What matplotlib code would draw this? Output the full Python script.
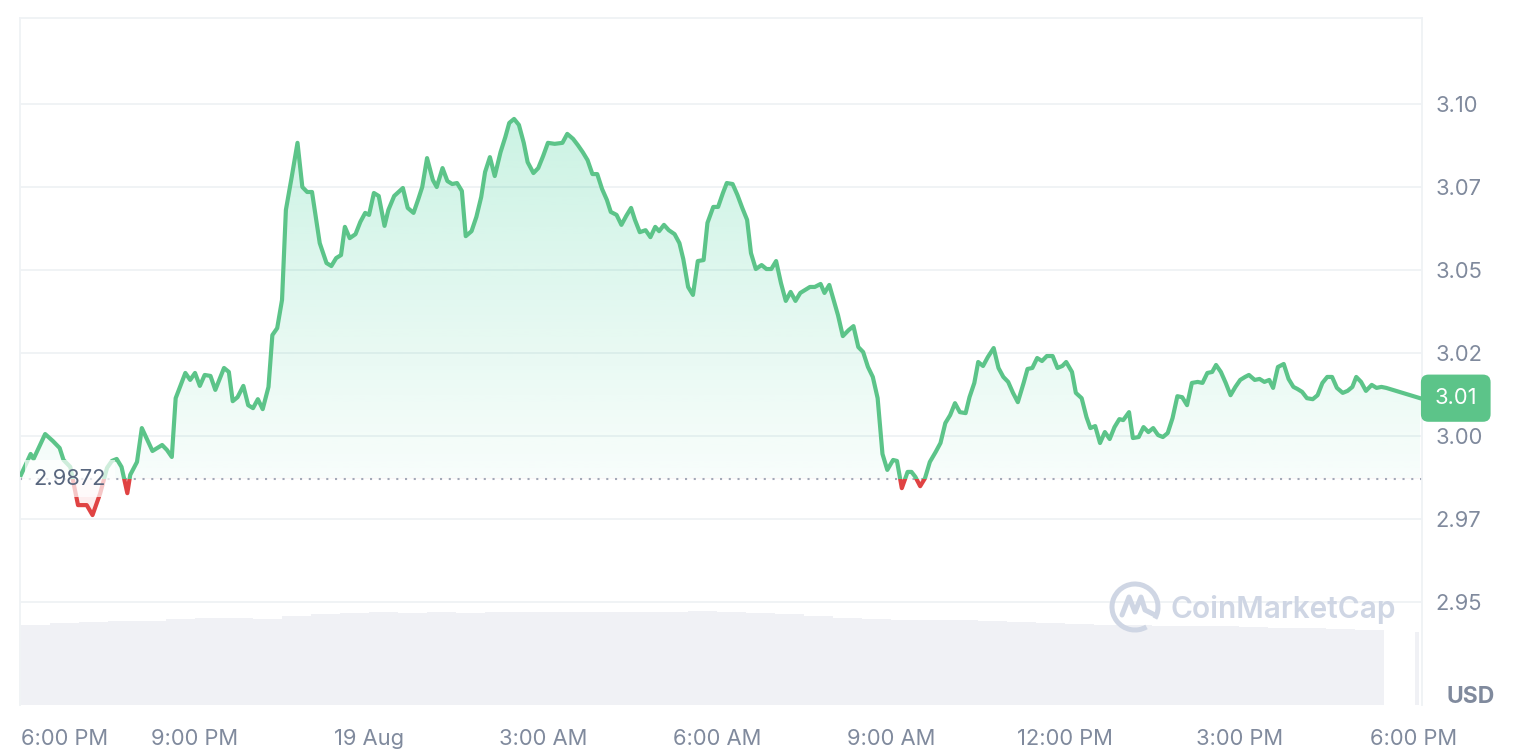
import numpy as np
import matplotlib.pyplot as plt
import matplotlib.colors as mcolors
from matplotlib.path import Path
from matplotlib.patches import Rectangle, Arc

plt.rcParams['font.family'] = ['Inter', 'DejaVu Sans']

# minutes after 6:00 PM (18 Aug)
minutes = [0, 10, 13, 25, 33, 40, 44, 51, 59, 68, 74, 82, 89, 94, 99, 104, 110, 113, 120, 125,
           136, 146, 151, 156, 160, 170, 175, 180, 185, 190, 196, 201, 210, 215, 219, 224, 230, 235, 240, 245,
           250, 256, 260, 265, 270, 274, 280, 286, 291, 296, 301, 309, 316, 321, 326, 331, 335, 340, 346, 351,
           356, 360, 365, 370, 376, 380, 386, 395, 400, 406, 411, 415, 420, 426, 430, 436, 441, 446, 451, 456,
           460, 466, 471, 476, 480, 485, 490, 496, 501, 505, 510, 515, 520, 524, 530, 535, 540, 545, 552, 560,
           565, 571, 576, 581, 586, 591, 596, 601, 606, 610, 616, 621, 626, 631, 635, 640, 646, 651, 656, 660,
           665, 670, 676, 681, 685, 690, 695, 700, 706, 710, 716, 721, 726, 730, 736, 741, 746, 751, 755, 760,
           766, 771, 776, 781, 786, 791, 796, 801, 806, 811, 816, 821, 827, 831, 836, 841, 845, 850, 856, 861,
           866, 871, 876, 881, 886, 891, 896, 902, 906, 911, 917, 921, 925, 930, 935, 940, 946, 951, 956, 961,
           966, 971, 977, 981, 986, 990, 995, 1000, 1006, 1011, 1016, 1021, 1026, 1031, 1037, 1041, 1046, 1051, 1056, 1061,
           1067, 1072, 1077, 1081, 1087, 1091, 1097, 1102, 1106, 1111, 1116, 1121, 1126, 1131, 1136, 1140, 1146, 1150, 1156, 1161,
           1166, 1171, 1176, 1181, 1186, 1191, 1196, 1201, 1206, 1211, 1217, 1222, 1227, 1232, 1236, 1241, 1246, 1251, 1256, 1261,
           1266, 1270, 1276, 1281, 1286, 1291, 1295, 1300, 1306, 1311, 1316, 1320, 1325, 1330, 1336, 1341, 1346, 1351, 1356, 1361,
           1367, 1372, 1377, 1381, 1386, 1391, 1397, 1402, 1407, 1412, 1447]

price = [2.9883, 2.9946, 2.9931, 3.0006, 2.9985, 2.9964, 2.9928, 2.9907, 2.9792, 2.9792,
         2.9762, 2.9828, 2.9904, 2.9925, 2.9931, 2.9907, 2.9828, 2.9883, 2.9922, 3.0024,
         2.9955, 2.9973, 2.9958, 2.9937, 3.0114, 3.0190, 3.0169, 3.0190, 3.0151, 3.0184,
         3.0181, 3.0139, 3.0205, 3.0193, 3.0105, 3.0117, 3.0151, 3.0093, 3.0084, 3.0111,
         3.0081, 3.0148, 3.0304, 3.0325, 3.0410, 3.0681, 3.0780, 3.0883, 3.0750, 3.0735,
         3.0735, 3.0581, 3.0521, 3.0512, 3.0536, 3.0545, 3.0630, 3.0596, 3.0608, 3.0645,
         3.0672, 3.0666, 3.0732, 3.0723, 3.0633, 3.0681, 3.0723, 3.0747, 3.0687, 3.0672,
         3.0714, 3.0750, 3.0837, 3.0771, 3.0750, 3.0807, 3.0768, 3.0759, 3.0762, 3.0738,
         3.0602, 3.0617, 3.0660, 3.0720, 3.0795, 3.0840, 3.0783, 3.0855, 3.0901, 3.0943,
         3.0955, 3.0937, 3.0883, 3.0825, 3.0792, 3.0807, 3.0843, 3.0883, 3.0880, 3.0883,
         3.0910, 3.0895, 3.0876, 3.0855, 3.0831, 3.0789, 3.0789, 3.0744, 3.0711, 3.0675,
         3.0666, 3.0636, 3.0663, 3.0687, 3.0651, 3.0614, 3.0620, 3.0599, 3.0630, 3.0617,
         3.0636, 3.0620, 3.0608, 3.0581, 3.0533, 3.0449, 3.0425, 3.0527, 3.0530, 3.0642,
         3.0690, 3.0690, 3.0732, 3.0762, 3.0759, 3.0726, 3.0687, 3.0651, 3.0551, 3.0503,
         3.0515, 3.0503, 3.0503, 3.0527, 3.0461, 3.0407, 3.0434, 3.0407, 3.0431, 3.0440,
         3.0449, 3.0449, 3.0458, 3.0431, 3.0455, 3.0404, 3.0364, 3.0301, 3.0319, 3.0331,
         3.0268, 3.0253, 3.0208, 3.0178, 3.0114, 2.9946, 2.9898, 2.9928, 2.9925, 2.9843,
         2.9892, 2.9892, 2.9877, 2.9849, 2.9873, 2.9922, 2.9952, 2.9979, 3.0039, 3.0063,
         3.0099, 3.0072, 3.0069, 3.0117, 3.0160, 3.0223, 3.0211, 3.0238, 3.0265, 3.0205,
         3.0178, 3.0163, 3.0130, 3.0102, 3.0160, 3.0202, 3.0205, 3.0235, 3.0226, 3.0241,
         3.0241, 3.0205, 3.0211, 3.0223, 3.0193, 3.0130, 3.0114, 3.0057, 3.0024, 3.0030,
         2.9979, 3.0012, 2.9991, 3.0027, 3.0051, 3.0048, 3.0072, 2.9994, 2.9997, 3.0027,
         3.0012, 3.0024, 3.0003, 2.9997, 3.0009, 3.0054, 3.0120, 3.0117, 3.0093, 3.0160,
         3.0163, 3.0160, 3.0190, 3.0193, 3.0214, 3.0193, 3.0160, 3.0123, 3.0148, 3.0169,
         3.0178, 3.0184, 3.0169, 3.0172, 3.0163, 3.0169, 3.0145, 3.0208, 3.0217, 3.0172,
         3.0148, 3.0142, 3.0133, 3.0114, 3.0111, 3.0123, 3.0160, 3.0178, 3.0178, 3.0145,
         3.0130, 3.0136, 3.0148, 3.0178, 3.0163, 3.0136, 3.0154, 3.0145, 3.0148, 3.0145,
         3.0114]

base_price = 2.9872
last_label = '3.01'

# 24h volume, half-hour slots (arbitrary units), plus the partial last slot
vol_minutes = list(range(0, 1410, 30)) + [1442]
volume = [80, 82, 83, 84, 84, 86, 87, 87, 86, 89, 91, 92, 93, 92, 93, 92, 93, 93, 93, 93,
          93, 93, 93, 94, 93, 92, 91, 89, 87, 86, 85, 85, 85, 84, 83, 82, 81, 80, 80, 79,
          79, 79, 78, 77, 77, 76, 75, 73]

xtick_pos = [0, 180, 360, 540, 720, 900, 1080, 1260, 1440]
xtick_labels = ['6:00 PM', '9:00 PM', '19 Aug', '3:00 AM', '6:00 AM', '9:00 AM',
                '12:00 PM', '3:00 PM', '6:00 PM']
ytick_pos = [2.95, 2.975, 3.0, 3.025, 3.05, 3.075, 3.10]
ytick_labels = ['2.95', '2.97', '3.00', '3.02', '3.05', '3.07', '3.10']

green = '#16C784'
line_green = '#5CC489'
red = '#EA3943'
txt = '#808A9D'

t = np.array(minutes, dtype=float)
p = np.array(price)
xlim = (-1, 1449)
ylim = (2.919, 3.1259)

fig = plt.figure(figsize=(15.3, 7.5), dpi=100)
rect = [20 / 1530, 45 / 750, 1402 / 1530, 687 / 750]

# volume bars in their own axes underneath
ax_vol = fig.add_axes(rect)
ax_vol.bar(vol_minutes[:-1], volume[:-1], width=30, align='edge', color='#F0F1F5', linewidth=0)
ax_vol.bar(vol_minutes[-1], volume[-1], width=4, align='edge', color='#F0F1F5', linewidth=0)
ax_vol.set_xlim(xlim)
ax_vol.set_ylim(0, 687)
ax_vol.axis('off')

ax = fig.add_axes(rect)
ax.patch.set_visible(False)
ax.set_xlim(xlim)
ax.set_ylim(ylim)

# gradient fills clipped to the area between price and the reference line
area = Path(list(zip(t, p)) + [(t[-1], base_price), (t[0], base_price)])
g = np.linspace(0, 1, 256).reshape(-1, 1)
up = np.zeros((256, 1, 4))
up[..., :3] = mcolors.to_rgb(green)
up[..., 3] = 0.03 + 0.2 * g[:, 0:1]
im = ax.imshow(up, extent=[t[0], t[-1], base_price, 3.10], origin='lower',
               aspect='auto', zorder=1, interpolation='bilinear')
im.set_clip_path(area, ax.transData)
dn = np.zeros((256, 1, 4))
dn[..., :3] = mcolors.to_rgb(red)
dn[..., 3] = 0.14 - 0.08 * g[:, 0:1]
im2 = ax.imshow(dn, extent=[t[0], t[-1], 2.97, base_price], origin='lower',
                aspect='auto', zorder=1, interpolation='bilinear')
im2.set_clip_path(area, ax.transData)
ax.set_xlim(xlim)
ax.set_ylim(ylim)

# price line: green above the reference, red below
above = Rectangle((xlim[0], base_price), xlim[1] - xlim[0], 1, transform=ax.transData)
below = Rectangle((xlim[0], base_price - 1), xlim[1] - xlim[0], 1, transform=ax.transData)
lg, = ax.plot(t, p, color=line_green, lw=3.0, solid_joinstyle='round', zorder=3)
lg.set_clip_path(above)
lr, = ax.plot(t, p, color='#E04343', lw=3.0, solid_joinstyle='round', zorder=3)
lr.set_clip_path(below)

ax.axhline(base_price, color='#A3A9B8', lw=1.5, ls=(0, (1, 3.2)), zorder=2)
ax.text(0.0095, base_price, f'{base_price:.4f}', transform=ax.get_yaxis_transform(),
        ha='left', va='center', fontsize=15.8, color='#58667E', zorder=4,
        bbox=dict(boxstyle='square,pad=0.4', facecolor='white', edgecolor='none', alpha=0.7))

ax.annotate(last_label, xy=(1.0, p[-1]), xycoords=ax.get_yaxis_transform(),
            xytext=(9, 0), textcoords='offset points', ha='left', va='center',
            fontsize=15.8, color='white', zorder=6, annotation_clip=False,
            bbox=dict(boxstyle='round,pad=0.62,rounding_size=0.35', facecolor=line_green,
                      edgecolor='none'))

ax.set_xticks(xtick_pos)
ax.set_xticklabels(xtick_labels)
ax.get_xticklabels()[0].set_ha('left')
ax.yaxis.tick_right()
ax.set_yticks(ytick_pos)
ax.set_yticklabels(ytick_labels)
ax.tick_params(axis='x', length=0, pad=17, labelsize=15.8, labelcolor=txt)
ax.tick_params(axis='y', length=0, pad=9.5, labelsize=15.8, labelcolor=txt)
ax.grid(axis='y', color='#EFF2F5', lw=1.3, zorder=0)
ax.set_axisbelow(True)
for side in ['left', 'right', 'top']:
    ax.spines[side].set_color('#EFF2F5')
    ax.spines[side].set_linewidth(1.3)
ax.spines['bottom'].set_visible(False)

fig.text(1471 / 1530, 1 - 697 / 750, 'USD', ha='center', va='center',
         fontsize=16.5, fontweight='bold', color=txt)

# watermark
wm = '#CFD6E4'
fig.text(1171 / 1530, 1 - 609 / 750, 'CoinMarketCap', ha='left', va='center',
         fontsize=21.5, fontweight='semibold', color=wm, zorder=10)
fig.patches.append(Arc((11.35, 1.43), 0.46, 0.46, theta1=-30, theta2=300, lw=3.6,
                       color=wm, transform=fig.dpi_scale_trans, figure=fig))
fig.lines.append(plt.Line2D([11.22, 11.29, 11.35, 11.41, 11.45, 11.55],
                            [1.35, 1.53, 1.38, 1.53, 1.40, 1.35], lw=3.6, color=wm,
                            transform=fig.dpi_scale_trans, figure=fig,
                            solid_joinstyle='round', solid_capstyle='round'))

fig.savefig('out.png', dpi=100, facecolor='white')
